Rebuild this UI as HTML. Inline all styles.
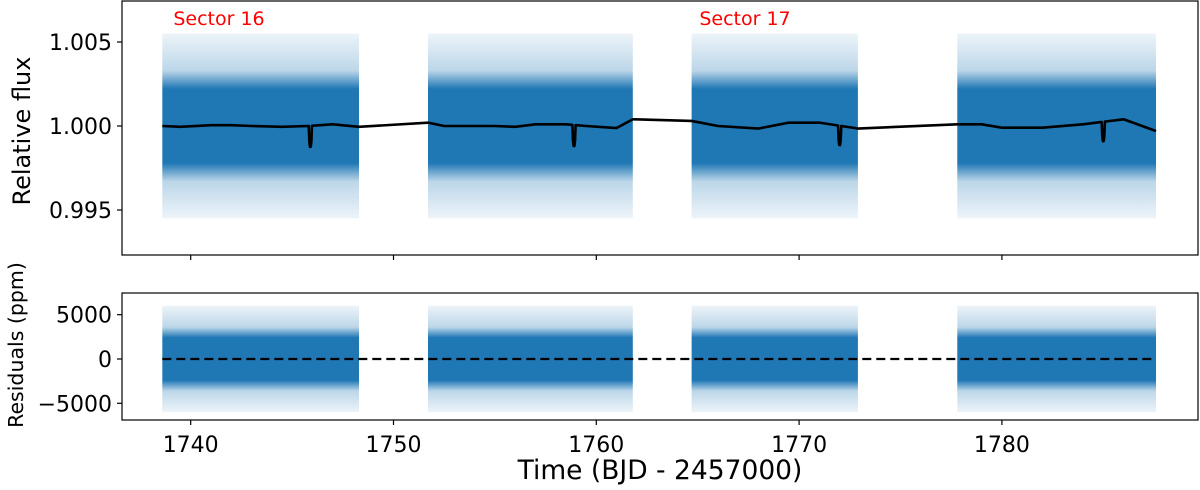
<!DOCTYPE html>
<html><head><meta charset="utf-8">
<style>
body{margin:0;background:#fff;}
svg{display:block;font-family:"DejaVu Sans","Liberation Sans",sans-serif;}
</style></head>
<body>
<svg id="chart" width="1200" height="490" viewBox="0 0 1200 490" xmlns="http://www.w3.org/2000/svg">
<defs>
<clipPath id="clipTop"><rect x="122" y="1" width="1076" height="254"/></clipPath>
<clipPath id="clipBot"><rect x="122" y="293" width="1076" height="127"/></clipPath>
<linearGradient id="fade" x1="0" y1="0" x2="0" y2="1">
<stop offset="0" stop-color="#1f77b4" stop-opacity="0.08"/>
<stop offset="0.2" stop-color="#1f77b4" stop-opacity="0.3"/>
<stop offset="0.3" stop-color="#1f77b4" stop-opacity="1"/>
<stop offset="0.7" stop-color="#1f77b4" stop-opacity="1"/>
<stop offset="0.8" stop-color="#1f77b4" stop-opacity="0.3"/>
<stop offset="1" stop-color="#1f77b4" stop-opacity="0.08"/>
</linearGradient>
</defs>
<g id="top-data" clip-path="url(#clipTop)"></g>
<g id="bot-data" clip-path="url(#clipBot)"></g>
<g id="axes"></g>
<text x="219" y="25" font-size="19" fill="#ff0000" text-anchor="middle">Sector 16</text>
<text x="745" y="25" font-size="19" fill="#ff0000" text-anchor="middle">Sector 17</text>
<text transform="translate(30,131) rotate(-90)" font-size="24" text-anchor="middle">Relative flux</text>
<text transform="translate(23,345) rotate(-90)" font-size="20.5" text-anchor="middle">Residuals (ppm)</text>
<text x="660" y="479" font-size="26.5" text-anchor="middle">Time (BJD - 2457000)</text>
</svg>
<script>
const segStart = [1738.6, 1751.7, 1764.7, 1777.8];
const segEnd = [1748.3, 1761.8, 1772.9, 1787.6];
const transitTimes = [1745.9, 1758.9, 1772.0, 1785.0];
const transitDepth = [0.00125, 0.00125, 0.00115, 0.00115];
const modelT = [1738.6,1739.5,1741,1742,1743,1744.5,1745.8,1747,1748.3,1751.7,1752.5,1755,1756,1757,1758.5,1759.5,1761,1761.8,1764.7,1766,1768,1769.5,1771,1772.9,1777.8,1779,1780,1782,1784,1786,1787.6];
const modelF = [1.0000,0.99995,1.00005,1.00005,1.0000,0.99995,1.0000,1.0001,0.99995,1.0002,1.0000,1.0000,0.99995,1.0001,1.0001,1.0000,0.99988,1.0004,1.0003,1.0000,0.99985,1.0002,1.0002,0.99985,1.0001,1.0001,0.9999,0.9999,1.0001,1.0004,0.9997];
const fluxBandOuter = 0.0055;
const residOuter = 6000;
const xTicks = [1740,1750,1760,1770,1780];
const yTopTicks = [1.005,1.000,0.995];
const yTopLabels = ["1.005","1.000","0.995"];
const yBotTicks = [5000,0,-5000];
const yBotLabels = ["5000","0","\u22125000"];

const NS="http://www.w3.org/2000/svg";
const X = t => 190.7 + (t-1740)*20.28;
const YT = f => 126 - (f-1)*16800;
const YB = r => 359 - r*0.00886;
function mk(tag, attrs, parent){const e=document.createElementNS(NS,tag);for(const k in attrs)e.setAttribute(k,attrs[k]);parent.appendChild(e);return e;}
const topG=document.getElementById('top-data'), botG=document.getElementById('bot-data'), ax=document.getElementById('axes');
segStart.forEach((s,i)=>{
  const e=segEnd[i];
  let r=mk('rect',{x:X(s),y:YT(1+fluxBandOuter),width:X(e)-X(s),height:YT(1-fluxBandOuter)-YT(1+fluxBandOuter),fill:'url(#fade)'},topG);
  
  
  r=mk('rect',{x:X(s),y:YB(residOuter),width:X(e)-X(s),height:YB(-residOuter)-YB(residOuter),fill:'url(#fade)'},botG);
  
  
});
function base(t){for(let i=0;i<modelT.length-1;i++){if(t>=modelT[i]&&t<=modelT[i+1]){const u=(t-modelT[i])/(modelT[i+1]-modelT[i]);return modelF[i]+u*(modelF[i+1]-modelF[i]);}}return t<modelT[0]?modelF[0]:modelF[modelF.length-1];}
const ts=[...modelT];
transitTimes.forEach(tt=>{ts.push(tt-0.12,tt-0.08,tt-0.05,tt-0.02,tt,tt+0.02,tt+0.05,tt+0.08,tt+0.12);});
ts.sort((a,b)=>a-b);
function model(t){let f=base(t);transitTimes.forEach((tt,i)=>{const d=Math.abs(t-tt);if(d<0.08)f-=transitDepth[i]*(d<0.04?1:(0.08-d)/0.04);});return f;}
let d=ts.map((t,i)=>(i?'L':'M')+X(t).toFixed(2)+','+YT(model(t)).toFixed(2)).join(' ');
let ml=mk('path',{d:d,fill:'none',stroke:'#000','stroke-width':2.6,'stroke-linejoin':'round'},topG);


let zl=mk('line',{x1:X(segStart[0]),x2:X(segEnd[3]),y1:YB(0),y2:YB(0),stroke:'#000','stroke-width':2.3,'stroke-dasharray':'9,5'},botG);


let f1=mk('rect',{x:122,y:1,width:1076,height:254,fill:'none',stroke:'#000','stroke-width':1.2},ax);


let f2=mk('rect',{x:122,y:293,width:1076,height:127,fill:'none',stroke:'#000','stroke-width':1.2},ax);


xTicks.forEach(t=>{
  let l=mk('line',{x1:X(t),x2:X(t),y1:255,y2:260,stroke:'#000','stroke-width':1.2},ax);
  
  
  l=mk('line',{x1:X(t),x2:X(t),y1:420,y2:425,stroke:'#000','stroke-width':1.2},ax);
  
  
  const tx=mk('text',{x:X(t),y:452,'font-size':22,'text-anchor':'middle'},ax);
  tx.textContent=t;
  
  
});
yTopTicks.forEach((v,i)=>{
  let l=mk('line',{x1:117,x2:122,y1:YT(v),y2:YT(v),stroke:'#000','stroke-width':1.2},ax);
  
  
  const tx=mk('text',{x:112,y:YT(v)+8,'font-size':22,'text-anchor':'end'},ax);
  tx.textContent=yTopLabels[i];
  
  
});
yBotTicks.forEach((v,i)=>{
  let l=mk('line',{x1:117,x2:122,y1:YB(v),y2:YB(v),stroke:'#000','stroke-width':1.2},ax);
  
  
  const tx=mk('text',{x:112,y:YB(v)+8,'font-size':22,'text-anchor':'end'},ax);
  tx.textContent=yBotLabels[i];
  
  
});
</script>
</body></html>
